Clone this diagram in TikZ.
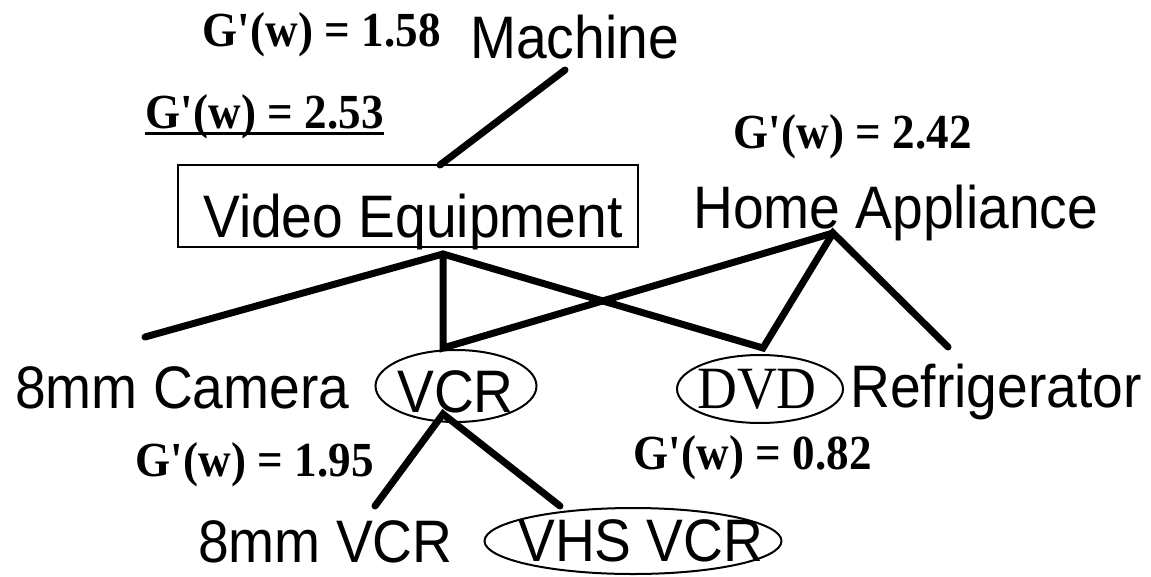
\documentclass[tikz,border=0pt]{standalone}
\usepackage{fontspec}
\setmainfont{Liberation Serif}
\setsansfont{Liberation Sans}
\newfontfamily\tallsans{Liberation Sans}[FakeStretch=0.92]
\newfontfamily\tallserif{Liberation Serif}[FakeStretch=0.92]
\usetikzlibrary{shapes.geometric}

\tikzset{
  lbl/.style={font=\fontsize{60}{64}\selectfont\tallsans, inner sep=0pt, anchor=base west},
  gval/.style={font=\fontsize{49}{54}\selectfont\tallserif\bfseries, inner sep=0pt, anchor=base west},
  link/.style={line width=7pt, line cap=round, line join=miter},
  oval/.style={draw, ellipse, line width=2pt, inner sep=0pt},
}

\begin{document}
\begin{tikzpicture}[x=1pt,y=-1pt]
    \useasboundingbox (0,0) rectangle (1151,576);

    % concept labels
    \node[lbl] (machine) at (470,58) {Machine};
    \node[lbl] (video) at (203,237) {Video Equipment};
    \node[lbl] (home) at (693,228) {Home Appliance};
    \node[lbl] (camera) at (15,408) {8mm Camera};
    \node[lbl] (vcr) at (397,412) {VCR};
    \node[font=\fontsize{60}{64}\selectfont\tallserif, inner sep=0pt, anchor=base west] (dvd) at (697,408) {DVD};
    \node[lbl] (fridge) at (850,407) {Refrigerator};
    \node[lbl] (vcreight) at (198,562) {8mm VCR};
    \node[lbl] (vhs) at (518,561) {VHS VCR};

    % box and ovals
    \node[draw, line width=2.5pt, minimum width=460, minimum height=82, inner sep=0pt] (videobox) at (408,206) {};
    \node[oval, minimum width=161, minimum height=72] (vcroval) at (456,386) {};
    \node[oval, minimum width=166, minimum height=68] (dvdoval) at (760,389) {};
    \node[oval, minimum width=297, minimum height=66] (vhsoval) at (633,541) {};

    % G'(w) values
    \node[gval] (gmachine) at (202,46) {G\textquotesingle(w) = 1.58};
    \node[gval] (gvideo) at (145,128) {G\textquotesingle(w) = 2.53};
    \draw[line width=3pt] ([yshift=-5pt]gvideo.base west) -- ([yshift=-5pt]gvideo.base east);
    \node[gval] (ghome) at (733,148) {G\textquotesingle(w) = 2.42};
    \node[gval] (gvcr) at (135,476) {G\textquotesingle(w) = 1.95};
    \node[gval] (gdvd) at (633,469) {G\textquotesingle(w) = 0.82};

    % line ends
    \coordinate (machine-end) at (565,70);
    \coordinate (video-top) at (440,165);
    \coordinate (video-fork) at (443,254);
    \coordinate (camera-end) at (145,337);
    \coordinate (vcr-top) at (443,348);
    \coordinate (dvd-top) at (763,348);
    \coordinate (home-fork) at (833,233);
    \coordinate (fridge-end) at (948,347);
    \coordinate (vcr-fork) at (443,414);
    \coordinate (vcreight-end) at (375,506);
    \coordinate (vhs-top) at (560,506);

    % links
    \draw[link] (machine-end) -- (video-top);
    \draw[link] (camera-end) -- (video-fork) -- (dvd-top) -- (home-fork) -- (fridge-end);
    \draw[link] (video-fork) -- (vcr-top) -- (home-fork);
    \draw[link] (vcreight-end) -- (vcr-fork) -- (vhs-top);
\end{tikzpicture}
\end{document}
